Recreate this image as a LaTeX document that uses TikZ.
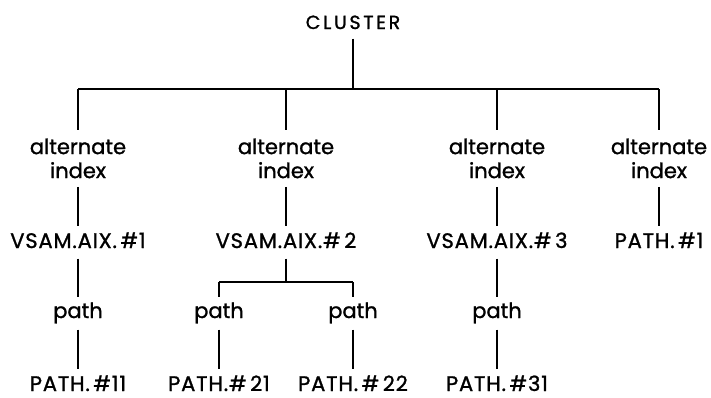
\documentclass[tikz,border=0pt]{standalone}
\usepackage{fontspec}
\newfontfamily\diag{Poppins}[FakeBold=1.2]
\begin{document}
\begin{tikzpicture}[x=1pt,y=-1pt,line width=1.1pt,
  lbl/.style={inner xsep=0pt, inner ysep=0pt, font=\diag\fontsize{21}{24}\selectfont},
  capsl/.style={lbl, font=\diag\fontsize{21}{24}\selectfont\addfontfeatures{LetterSpace=4}},
  root/.style={lbl, anchor=base, text height=14pt, text depth=9pt,
    font=\diag\fontsize{19}{22}\selectfont\addfontfeatures{LetterSpace=14}},
  altidx/.style={lbl, anchor=north, align=center, inner ysep=8pt},
  dsname/.style={capsl, anchor=base, text height=21pt, text depth=10pt},
  pathlbl/.style={lbl, anchor=base, text height=20pt, text depth=11pt},
  leaf/.style={capsl, anchor=base, text height=21pt, text depth=0pt}]
  \useasboundingbox (0,0) rectangle (711,397);

  % root and its bus
  \node[root] (cluster) at (353,29) {CLUSTER};
  \coordinate (bus) at (353,89);

  % second level: alternate indexes
  \node[altidx] (ai1) at (78,130)  {alternate\\index};
  \node[altidx] (ai2) at (286,130) {alternate\\index};
  \node[altidx] (ai3) at (497,130) {alternate\\index};
  \node[altidx] (ai4) at (659,130) {alternate\\index};

  % third level
  \node[dsname] (aix1) at (78,248)  {VSAM.AIX.\,\#1};
  \node[dsname] (aix2) at (286,248) {VSAM.AIX.\#\,2};
  \node[dsname] (aix3) at (497,248) {VSAM.AIX.\#\,3};
  \node[dsname] (p1)   at (659,248) {PATH.\,\#1};

  % paths
  \coordinate (sub) at (286,282);
  \node[pathlbl] (pa1)  at (78,318)  {path};
  \node[pathlbl] (pa21) at (219,318) {path};
  \node[pathlbl] (pa22) at (353,318) {path};
  \node[pathlbl] (pa3)  at (497,318) {path};

  % leaves
  \node[leaf] (p11) at (78,391)  {PATH.\,\#11};
  \node[leaf] (p21) at (219,391) {PATH.\#\,21};
  \node[leaf] (p22) at (353,391) {PATH.\,\#\,22};
  \node[leaf] (p31) at (497,391) {PATH.\,\#31};

  % connectors
  \draw (cluster.south) -- (bus);
  \draw (ai1.north |- bus) -- (ai4.north |- bus);
  \foreach \n in {ai1,ai2,ai3,ai4} \draw (\n.north |- bus) -- (\n.north);
  \draw (ai1.south) -- (aix1.north);
  \draw (ai2.south) -- (aix2.north);
  \draw (ai3.south) -- (aix3.north);
  \draw (ai4.south) -- (p1.north);
  \draw (aix1.south) -- (pa1.north);
  \draw (aix3.south) -- (pa3.north);
  \draw (aix2.south) -- (sub);
  \draw (pa21.north |- sub) -- (pa22.north |- sub);
  \draw (pa21.north |- sub) -- (pa21.north);
  \draw (pa22.north |- sub) -- (pa22.north);
  \draw (pa1.south) -- (p11.north);
  \draw (pa21.south) -- (p21.north);
  \draw (pa22.south) -- (p22.north);
  \draw (pa3.south) -- (p31.north);
\end{tikzpicture}
\end{document}
